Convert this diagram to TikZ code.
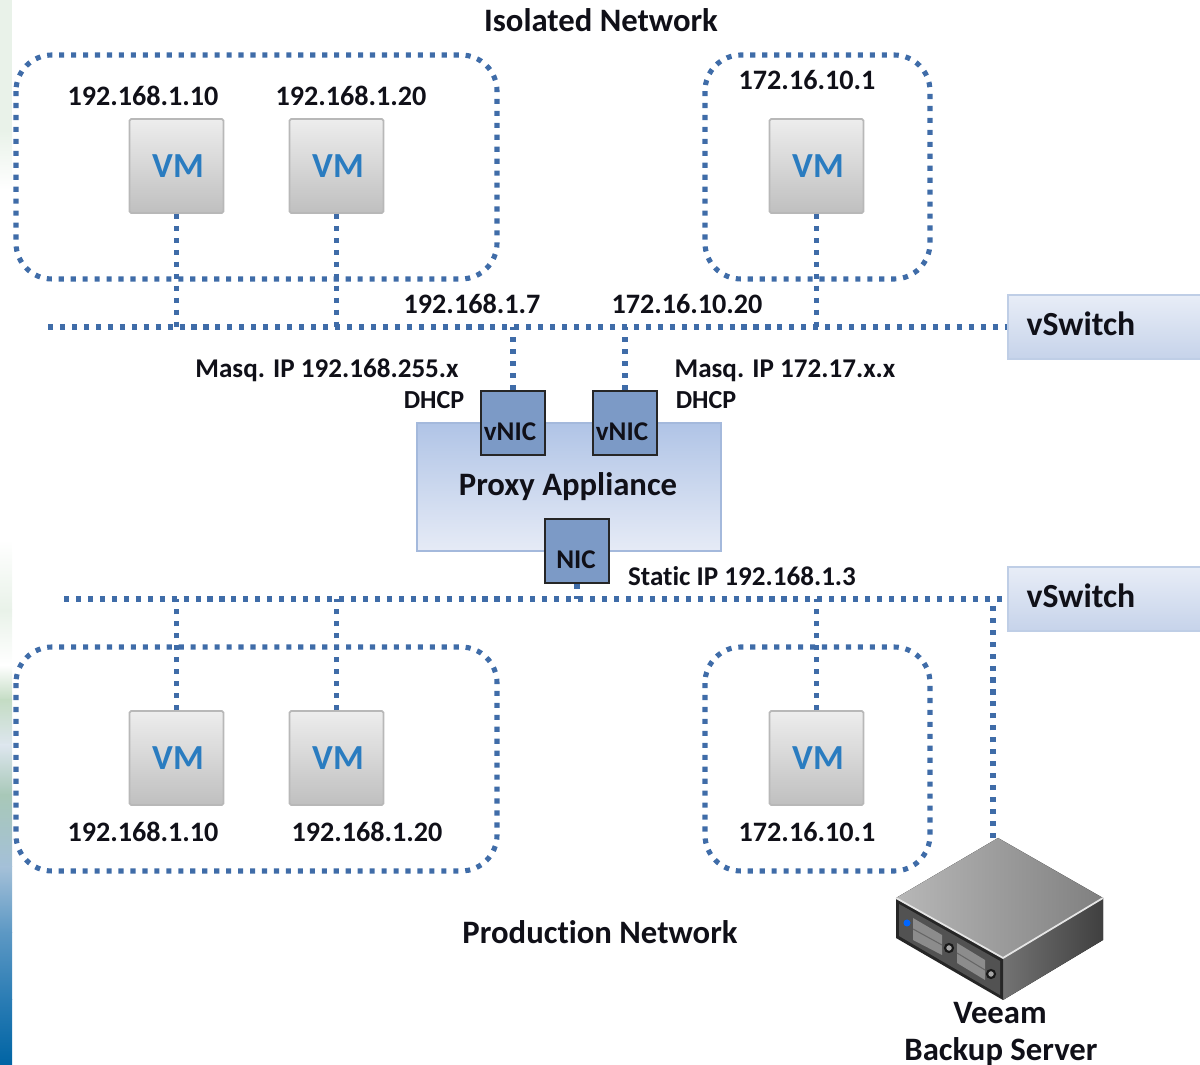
\documentclass[tikz,border=0pt]{standalone}
\usepackage{fontspec}
\setmainfont{Carlito}[Ligatures=CommonOff]
\usetikzlibrary{positioning}

\definecolor{netblue}{HTML}{3F6CA8}
\definecolor{vmblue}{HTML}{2A7CC0}
\definecolor{nicblue}{HTML}{7C9AC6}
\definecolor{proxyedge}{HTML}{A4B9DC}
\definecolor{proxytop}{HTML}{B0C4E6}
\definecolor{proxybot}{HTML}{E6EBF6}
\definecolor{swtop}{HTML}{E8EDF7}
\definecolor{swbot}{HTML}{C6D3EA}
\definecolor{txtdark}{HTML}{101018}
% colours of the strip at the left
\definecolor{stripA}{HTML}{E9F2E9}
\definecolor{stripB}{HTML}{C4DCC4}
\definecolor{stripC}{HTML}{DDE6EE}
\definecolor{stripD}{HTML}{A8C8B8}
\definecolor{stripE}{HTML}{A4C0D8}
\definecolor{stripF}{HTML}{5C98C4}
\definecolor{stripG}{HTML}{2A7CB4}
\definecolor{stripH}{HTML}{0064A4}

\tikzset{
  netline/.style={draw=netblue,line width=1.45pt,dash pattern=on 1.45pt off 1.95pt},
  groupbox/.style={netline,rounded corners=0.36cm},
  vmbox/.style={draw=black!28,top color=black!7,bottom color=black!25,rounded corners=0.5pt,line width=0.5pt,
    minimum size=0.94cm,inner sep=0pt,text=vmblue,font=\fontsize{10}{11}\bfseries},
  iplabel/.style={inner sep=0pt,text=txtdark,font=\fontsize{8}{9}\bfseries},
  masqlabel/.style={iplabel,font=\fontsize{7.7}{9}\bfseries},
  dhcplabel/.style={iplabel,font=\fontsize{7.4}{9}\bfseries},
  titlelabel/.style={inner sep=0pt,text=txtdark,font=\fontsize{9.3}{10}\bfseries},
  switchlabel/.style={titlelabel,font=\fontsize{9.6}{11}\bfseries},
  switchbox/.style={draw=proxyedge!70,top color=swtop,bottom color=swbot,line width=0.5pt,minimum width=1.94cm,minimum height=0.64cm,inner sep=0pt},
  nicbox/.style={draw=black!85,fill=nicblue,line width=0.7pt,minimum size=0.64cm,inner xsep=0pt,inner ysep=0pt,
    text height=0.49cm,text depth=0.15cm,text=txtdark,font=\fontsize{7.7}{9}\bfseries},
  proxybox/.style={draw=proxyedge,top color=proxytop,bottom color=proxybot,line width=0.6pt,minimum width=3.04cm,minimum height=1.28cm,inner sep=0pt}
}

\begin{document}
\begin{tikzpicture}[x=0.01cm,y=-0.01cm]
\useasboundingbox (0,0) rectangle (1200,1065);

% Strip of the slide behind the picture
\fill[stripA] (0,0) rectangle (12,130);
\fill[top color=stripA,bottom color=white] (0,130) rectangle (12,190);
\fill[top color=white,bottom color=stripA] (0,540) rectangle (12,610);
\fill[top color=stripA,bottom color=white] (0,610) rectangle (12,665);
\fill[top color=white,bottom color=stripB] (0,665) rectangle (12,700);
\fill[top color=stripB,bottom color=stripC] (0,700) rectangle (12,745);
\fill[top color=stripC,bottom color=stripD] (0,745) rectangle (12,795);
\fill[top color=stripD,bottom color=stripE] (0,795) rectangle (12,867);
\fill[top color=stripE,bottom color=stripF] (0,867) rectangle (12,933);
\fill[top color=stripF,bottom color=stripG] (0,933) rectangle (12,1000);
\fill[top color=stripG,bottom color=stripH] (0,1000) rectangle (12,1065);

% Group outlines
\draw[groupbox] (16,55) rectangle (497,279);
\draw[groupbox] (705,55) rectangle (930,279);
\draw[groupbox] (16,647) rectangle (497,871);
\draw[groupbox] (705,647) rectangle (930,871);

% Switches and the points where their lines start
\node[switchbox] (swIso) at (1105,327) {};
\node[switchbox] (swProd) at (1105,599) {};
\node[switchlabel] (swIsoText) at (1081,324) {vSwitch};
\node[switchlabel] (swProdText) at (1081,596) {vSwitch};
\coordinate (isoStart) at (48,327);
\coordinate (prodStart) at (64,599);

% Isolated side
\node[vmbox] (vmIsoA) at (176.5,166) {\hspace{0.03cm}VM};
\node[vmbox] (vmIsoB) at (336.5,166) {\hspace{0.03cm}VM};
\node[vmbox] (vmIsoC) at (816.5,166) {\hspace{0.03cm}VM};
\node[iplabel] (ipIsoA) at (143,96) {192.168.1.10};
\node[iplabel] (ipIsoB) at (351,96) {192.168.1.20};
\node[iplabel] (ipIsoC) at (807,80) {172.16.10.1};
\node[titlelabel] (isoTitle) at (601,20) {Isolated Network};

% Production side
\node[vmbox] (vmProdA) at (176.5,758) {\hspace{0.03cm}VM};
\node[vmbox] (vmProdB) at (336.5,758) {\hspace{0.03cm}VM};
\node[vmbox] (vmProdC) at (816.5,758) {\hspace{0.03cm}VM};
\node[iplabel] (ipProdA) at (143,832) {192.168.1.10};
\node[iplabel] (ipProdB) at (367,832) {192.168.1.20};
\node[iplabel] (ipProdC) at (807,832) {172.16.10.1};
\node[titlelabel] (prodTitle) at (600,932) {Production Network};

% Proxy in the middle
\node[proxybox] (proxy) at (569,487) {};
\node[titlelabel] (proxyText) at (568,487) {Proxy Appliance};
\node[nicbox] (vnicA) at (513,423) {vNIC\kern0.06cm};
\node[nicbox] (vnicB) at (625,423) {vNIC\kern0.06cm};
\node[nicbox] (nicC) at (577,551) {NIC\kern0.02cm};

\node[iplabel] (ipVnicA) at (472,304) {192.168.1.7};
\node[iplabel] (ipVnicB) at (687,304) {172.16.10.20};
\node[masqlabel] (masqA) at (327,370) {Masq. IP 192.168.255.x};
\node[dhcplabel] (dhcpA) at (434,400) {DHCP};
\node[masqlabel] (masqB) at (785,371) {Masq. IP 172.17.x.x};
\node[dhcplabel] (dhcpB) at (706,400) {DHCP};
\node[masqlabel] (staticIp) at (742,576) {Static IP 192.168.1.3};

% Network lines
\draw[netline] (isoStart) -- (swIso.west);
\draw[netline] (vmIsoA.south) -- (vmIsoA.south |- isoStart);
\draw[netline] (vmIsoB.south) -- (vmIsoB.south |- isoStart);
\draw[netline] (vmIsoC.south) -- (vmIsoC.south |- isoStart);
\draw[netline] (vnicA.north) -- (vnicA.north |- isoStart);
\draw[netline] (vnicB.north) -- (vnicB.north |- isoStart);

\draw[netline] (prodStart) -- (swProd.west);
\draw[netline] (vmProdA.north) -- (vmProdA.north |- prodStart);
\draw[netline] (vmProdB.north) -- (vmProdB.north |- prodStart);
\draw[netline] (vmProdC.north) -- (vmProdC.north |- prodStart);
\draw[netline] (nicC.south) -- (nicC.south |- prodStart);

% Backup server
\coordinate (srvTop) at (993,838);
\draw[netline] (srvTop) -- (srvTop |- prodStart);
\fill[left color=black!28,right color=black!50] (998,838) -- (1103,898) -- (1003,958) -- (896,898) -- cycle;
\fill[left color=black!55,right color=black!75] (1003,958) -- (1103,898) -- (1103,940) -- (1003,1000) -- cycle;
\fill[black!85] (896,898) -- (1003,958) -- (1003,1000) -- (896,938) -- cycle;
\draw[black!10,line width=0.5pt] (896,898) -- (1003,958) -- (1103,898);
\fill[black!68] (899,904) -- (1000,961) -- (1000,995) -- (899,936) -- cycle;
\fill[black!45] (913,918) -- (942,935) -- (942,955) -- (913,940) -- cycle;
\fill[black!45] (957,943) -- (985,960) -- (985,980) -- (957,963) -- cycle;
\draw[black!60,line width=0.3pt] (913,929) -- (942,945);
\draw[black!60,line width=0.3pt] (957,953) -- (985,970);
\fill[blue!60!cyan] (907,923) circle (3.5);
\draw[black!90,fill=black!35,line width=0.6pt] (949,948) circle (4);
\draw[black!90,fill=black!35,line width=0.6pt] (991,974) circle (4);
\node[titlelabel] (srvNameA) at (1000,1013) {Veeam};
\node[titlelabel] (srvNameB) at (1001,1052) {Backup Server};
\end{tikzpicture}
\end{document}
